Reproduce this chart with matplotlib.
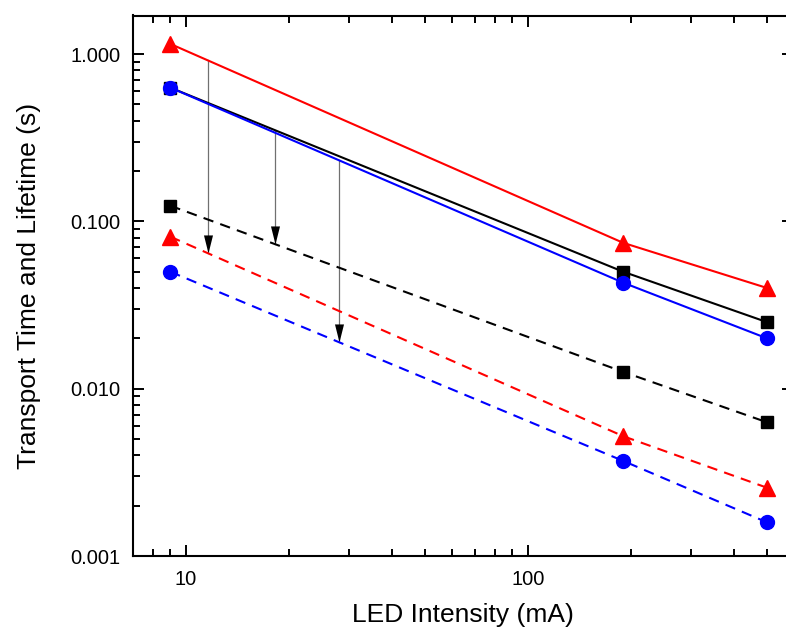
import numpy as np
import matplotlib
matplotlib.use("Agg")
import matplotlib.pyplot as plt
from matplotlib.path import Path
from matplotlib.ticker import LogLocator, FixedLocator, FixedFormatter, FormatStrFormatter, NullFormatter

plt.rcParams['font.family'] = ['Liberation Sans', 'DejaVu Sans']

# LED intensity (mA)
intensity = [9, 190, 500]

# transport times (solid) and lifetimes (dashed), seconds
transport_black = [0.63, 0.050, 0.025]
transport_red = [1.15, 0.0744, 0.040]
transport_blue = [0.63, 0.043, 0.020]
lifetime_black = [0.124, 0.0126, 0.0063]
lifetime_red = [0.081, 0.0052, 0.00256]
lifetime_blue = [0.050, 0.0037, 0.00159]

# arrow x positions (mA) and the pair of series each arrow joins
arrow_x = [11.6, 18.2, 28.0]
arrow_pairs = [(transport_red, lifetime_red),
               (transport_black, lifetime_black),
               (transport_blue, lifetime_blue)]


def loglog_interp(x, xs, ys):
    return 10 ** np.interp(np.log10(x), np.log10(xs), np.log10(ys))


fig = plt.figure(figsize=(7.86, 6.30), dpi=100)
# right spine sits just past the picture edge, as in the cropped original
ax = fig.add_axes([133 / 786, 74 / 630, 660 / 786, 540.5 / 630])

# arrows: grey shaft, black head
head = Path([(-0.25, 1.0), (0.25, 1.0), (0.0, 0.0), (-0.25, 1.0)],
            [Path.MOVETO, Path.LINETO, Path.LINETO, Path.CLOSEPOLY])
for xa, (top, bottom) in zip(arrow_x, arrow_pairs):
    y0 = loglog_interp(xa, intensity, top)
    y1 = loglog_interp(xa, intensity, bottom)
    ax.plot([xa, xa], [y0, y1], color='#707070', lw=0.9, zorder=2)
    ax.plot([xa], [y1], marker=head, markersize=26, color='black',
            markeredgewidth=0, linestyle='none', zorder=3)

dash = (5, 3.5)
ax.plot(intensity, lifetime_black, color='black', lw=1.5, dashes=dash,
        marker='s', markersize=8.5, zorder=4)
ax.plot(intensity, lifetime_red, color='red', lw=1.5, dashes=dash,
        marker='^', markersize=11, zorder=4)
ax.plot(intensity, lifetime_blue, color='blue', lw=1.5, dashes=dash,
        marker='o', markersize=10, zorder=4)

ax.plot(intensity, transport_black, color='black', lw=1.5,
        marker='s', markersize=8.5, zorder=5)
ax.plot(intensity, transport_red, color='red', lw=1.5,
        marker='^', markersize=11, zorder=5)
ax.plot(intensity, transport_blue, color='blue', lw=1.5,
        marker='o', markersize=10, zorder=6)

ax.set_xscale('log')
ax.set_yscale('log')
ax.set_xlim(7.0, 596)
ax.set_ylim(0.001, 1.70)

# ticks
ax.xaxis.set_major_locator(FixedLocator([10, 100]))
ax.xaxis.set_major_formatter(FixedFormatter(['10', '100']))
ax.xaxis.set_minor_locator(LogLocator(base=10, subs=np.arange(2, 10)))
ax.xaxis.set_minor_formatter(NullFormatter())
ax.yaxis.set_major_locator(FixedLocator([0.001, 0.01, 0.1, 1.0]))
ax.yaxis.set_major_formatter(FormatStrFormatter('%.3f'))
ax.yaxis.set_minor_locator(LogLocator(base=10, subs=np.arange(2, 10)))
ax.yaxis.set_minor_formatter(NullFormatter())

ax.tick_params(which='both', direction='in', top=True, right=True,
               width=1.4, labelsize=14.5)
ax.tick_params(which='major', length=8)
ax.tick_params(which='minor', length=5)
ax.tick_params(axis='y', pad=9)
ax.tick_params(axis='x', pad=10)

for s in ax.spines.values():
    s.set_linewidth(1.5)

ax.set_xlabel('LED Intensity (mA)', fontsize=19, labelpad=10)
ax.set_ylabel('Transport Time and Lifetime (s)', fontsize=19, labelpad=21)

fig.savefig('out.png', dpi=100)
